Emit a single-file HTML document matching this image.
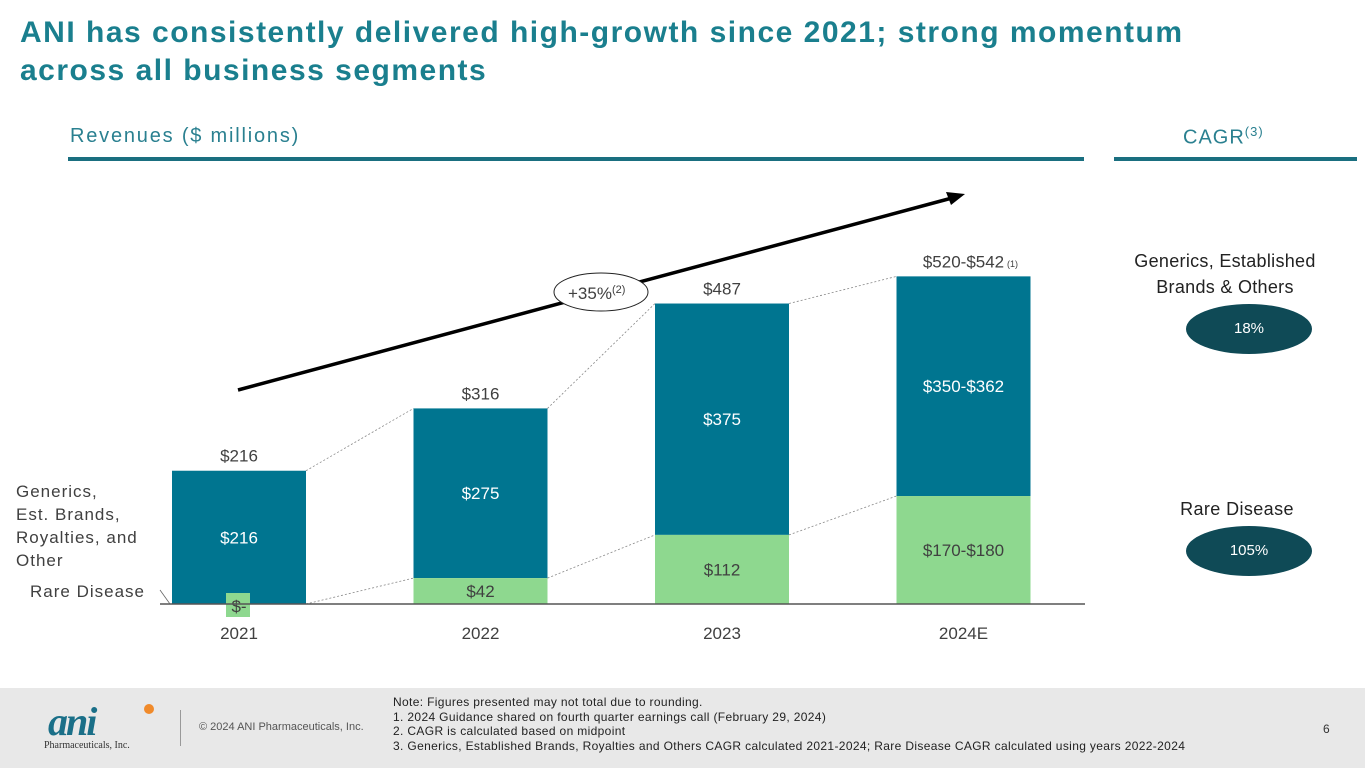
<!DOCTYPE html>
<html><head><meta charset="utf-8"><style>
body{margin:0;width:1365px;height:768px;overflow:hidden;background:#fff;font-family:"Liberation Sans",sans-serif;position:relative}
.t{position:absolute;white-space:nowrap}
</style></head><body>
<div class="t" style="left:20px;top:14px;font-size:30px;font-weight:bold;color:#1a7f8e;line-height:38px;letter-spacing:1.5px">ANI has consistently delivered high-growth since 2021; strong momentum<br>across all business segments</div>
<div class="t" style="left:70px;top:125px;font-size:20px;color:#2a8090;letter-spacing:1.8px">Revenues ($ millions)</div>
<div style="position:absolute;left:68px;top:157px;width:1016px;height:4px;background:#1a6f80"></div>
<div class="t" style="left:1183px;top:124px;font-size:20px;color:#2a8090;letter-spacing:1px">CAGR<sup style="font-size:13px">(3)</sup></div>
<div style="position:absolute;left:1114px;top:157px;width:243px;height:4px;background:#1a6f80"></div>
<div class="t" style="left:1120px;top:248px;width:210px;text-align:center;font-size:18px;color:#222;line-height:26px;letter-spacing:0.3px">Generics, Established<br>Brands &amp; Others</div>
<div style="position:absolute;left:1186px;top:304px;width:126px;height:50px;border-radius:50%;background:#0f4a56;color:#fff;font-size:15px;line-height:50px;text-align:center">18%</div>
<div class="t" style="left:1179px;top:499px;width:116px;text-align:center;font-size:18px;color:#222;letter-spacing:0.4px">Rare Disease</div>
<div style="position:absolute;left:1186px;top:526px;width:126px;height:50px;border-radius:50%;background:#0f4a56;color:#fff;font-size:15px;line-height:50px;text-align:center">105%</div>

<svg id="chart" width="1365" height="688" style="position:absolute;left:0;top:0" font-family="Liberation Sans, sans-serif"></svg>

<div style="position:absolute;left:0;top:688px;width:1365px;height:80px;background:#e8e8e8">
<div style="position:absolute;left:44px;top:14px;width:115px;height:40px">
<div style="position:absolute;left:4px;top:0;font:italic bold 40px 'Liberation Serif',serif;color:#1a6f88;letter-spacing:-2px;line-height:40px">ani</div>
<div style="position:absolute;left:100px;top:2px;width:10px;height:10px;border-radius:50%;background:#f08a2a"></div>
<div style="position:absolute;left:0;top:38px;font:10px 'Liberation Serif',serif;color:#333">Pharmaceuticals, Inc.</div>
</div>
<div style="position:absolute;left:180px;top:22px;width:1px;height:36px;background:#999"></div>
<div class="t" style="left:199px;top:33px;font-size:11px;color:#555">© 2024 ANI Pharmaceuticals, Inc.</div>
<div class="t" style="left:393px;top:7px;font-size:12px;color:#222;line-height:14.5px;letter-spacing:0.35px">Note: Figures presented may not total due to rounding.<br>1. 2024 Guidance shared on fourth quarter earnings call (February 29, 2024)<br>2. CAGR is calculated based on midpoint<br>3. Generics, Established Brands, Royalties and Others CAGR calculated 2021-2024; Rare Disease CAGR calculated using years 2022-2024</div>
<div class="t" style="left:1323px;top:34px;font-size:12px;color:#333">6</div>
</div>

<script>
const categories=["2021","2022","2023","2024E"];
const genericsValues=[216,275,375,356];
const rareValues=[0,42,112,175];
const genericsLabels=["$216","$275","$375","$350-$362"];
const rareLabels=["$-","$42","$112","$170-$180"];
const totalLabels=["$216","$316","$487","$520-$542"];
const NS="http://www.w3.org/2000/svg";
const svg=document.getElementById('chart');
const baseY=604, scale=0.617, x0=172, step=241.5, bw=134;
const xPos=i=>x0+i*step;
const yPos=v=>baseY-v*scale;
function mk(tag,attrs,text){const e=document.createElementNS(NS,tag);for(const k in attrs)e.setAttribute(k,attrs[k]);if(text!==undefined)e.textContent=text;svg.appendChild(e);return e;}
categories.forEach((c,i)=>{
  const x=xPos(i), tot=genericsValues[i]+rareValues[i];
  const g=mk('rect',{x:x,y:yPos(tot),width:bw,height:genericsValues[i]*scale,fill:'#007590'});
  
  
  if(rareValues[i]>0){
    const r=mk('rect',{x:x,y:yPos(rareValues[i]),width:bw,height:rareValues[i]*scale,fill:'#8ed88f'});
    
    
    const rl=mk('text',{x:x+bw/2,y:(yPos(rareValues[i])+baseY)/2+6,'text-anchor':'middle','font-size':17,fill:'#404040'},rareLabels[i]);
    
    
  } else {
    const bx=mk('rect',{x:x+54,y:baseY-11,width:24,height:24,fill:'#8ed88f'});
    
    
    const rl=mk('text',{x:x+bw/2,y:baseY+8,'text-anchor':'middle','font-size':17,fill:'#404040'},rareLabels[i]);
    
    
  }
  const gl=mk('text',{x:x+bw/2,y:(yPos(tot)+yPos(rareValues[i]))/2+6,'text-anchor':'middle','font-size':17,fill:'#fff'},genericsLabels[i]);
  
  
  const tl=mk('text',{x:x+bw/2,y:yPos(tot)-9,'text-anchor':'middle','font-size':17,fill:'#404040'},totalLabels[i]);
  
  
  const xl=mk('text',{x:x+bw/2,y:639,'text-anchor':'middle','font-size':17,fill:'#404040'},c);
  
  
  if(i<categories.length-1){
    const nt=genericsValues[i+1]+rareValues[i+1];
    const l1=mk('line',{x1:x+bw,y1:yPos(tot),x2:xPos(i+1),y2:yPos(nt),stroke:'#888','stroke-width':0.8,'stroke-dasharray':'2,2'});
    
    
    const l2=mk('line',{x1:x+bw,y1:yPos(rareValues[i]),x2:xPos(i+1),y2:yPos(rareValues[i+1]),stroke:'#888','stroke-width':0.8,'stroke-dasharray':'2,2'});
    
    
  }
});
const sup=mk('text',{x:1007,y:267,'font-size':9,fill:'#404040'},'(1)');


const ax=mk('line',{x1:160,y1:baseY,x2:1085,y2:baseY,stroke:'#555','stroke-width':1.5});


const ln=mk('line',{x1:238,y1:390,x2:952,y2:198,stroke:'#000','stroke-width':3.5});


const ah=mk('polygon',{points:'965,194 946,192 951,205',fill:'#000'});


const el=mk('ellipse',{cx:601,cy:292,rx:47,ry:19,fill:'#fff',stroke:'#222','stroke-width':1});


const et=mk('text',{x:568,y:299,'font-size':17,fill:'#404040'},'+35%');


const es=mk('text',{x:612,y:293,'font-size':11,fill:'#404040'},'(2)');


['Generics,','Est. Brands,','Royalties, and','Other'].forEach((s,k)=>{
  const t=mk('text',{x:16,y:497+k*23,'font-size':17,fill:'#404040','letter-spacing':'1'},s);
  
  
});
const rd=mk('text',{x:30,y:597,'font-size':17,fill:'#404040','letter-spacing':'1'},'Rare Disease');


const rl2=mk('line',{x1:160,y1:590,x2:170,y2:604,stroke:'#666','stroke-width':0.8});


</script>
</body></html>
